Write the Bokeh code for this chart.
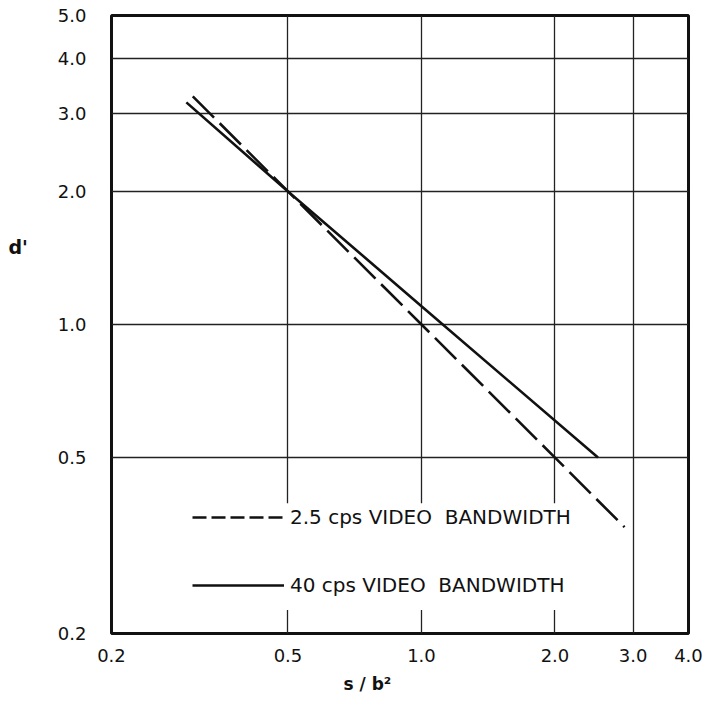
from bokeh.plotting import figure
from bokeh.models import FixedTicker, PrintfTickFormatter, Legend, LegendItem, Label, BoxAnnotation, Title
from bokeh.embed import file_html
from bokeh.resources import INLINE

# d' versus s/b^2 for two video bandwidths (log-log)
dash_x = [0.305, 0.5, 1.0, 2.0, 2.87]
dash_y = [3.28, 2.0, 1.0, 0.5, 0.348]
solid_x = [0.295, 0.5, 1.0, 2.5]
solid_y = [3.18, 2.0, 1.1, 0.5]

series_labels = ["2.5 cps VIDEO\u00a0 BANDWIDTH", "40 cps VIDEO\u00a0 BANDWIDTH"]

x_ticks = [0.2, 0.5, 1.0, 2.0, 3.0, 4.0]
y_ticks = [0.2, 0.5, 1.0, 2.0, 3.0, 4.0, 5.0]
x_grid = [0.5, 1.0, 2.0, 3.0]
y_grid = [0.5, 1.0, 2.0, 3.0, 4.0]

FONT = "DejaVu Sans"
INK = "#111111"

p = figure(width=704, height=706,
           x_axis_type="log", y_axis_type="log",
           x_range=(0.2, 4.0), y_range=(0.2, 5.0),
           output_backend="svg", toolbar_location=None,
           min_border_left=111, min_border_right=16,
           min_border_top=15, min_border_bottom=73)

p.outline_line_color = INK
p.outline_line_width = 3
p.background_fill_color = "white"
p.border_fill_color = "white"

p.xaxis.ticker = FixedTicker(ticks=x_ticks)
p.yaxis.ticker = FixedTicker(ticks=y_ticks)
for ax in (p.xaxis, p.yaxis):
    ax.formatter = PrintfTickFormatter(format="%.1f")
    ax.axis_line_color = None
    ax.major_tick_line_color = None
    ax.minor_tick_line_color = None
    ax.major_tick_out = 0
    ax.major_tick_in = 0
    ax.major_label_text_font = FONT
    ax.major_label_text_font_size = "18px"
    ax.major_label_text_color = INK
p.yaxis.major_label_standoff = 25
p.xaxis.major_label_standoff = 15

p.xgrid.ticker = FixedTicker(ticks=x_grid)
p.ygrid.ticker = FixedTicker(ticks=y_grid)
for g in (p.xgrid, p.ygrid):
    g.grid_line_color = "#222222"
    g.grid_line_width = 1.3
    g.grid_line_alpha = 1.0

r_dash = p.line(dash_x, dash_y, line_color=INK, line_width=2.6, line_dash="30 8")
r_solid = p.line(solid_x, solid_y, line_color=INK, line_width=2.6)

# key sample for the dashed series: same series start, shorter dash
r_dash_key = p.line(dash_x[:1], dash_y[:1], line_color=INK, line_width=2.4,
                    line_dash="14 5")

# blank panel behind the key, interrupting the vertical rules
p.add_layout(BoxAnnotation(left=0.29, right=2.3, bottom=0.226, top=0.394,
                           fill_color="white", fill_alpha=1.0, line_color=None))

legend = Legend(
    items=[LegendItem(label=series_labels[0], renderers=[r_dash_key]),
           LegendItem(label=series_labels[1], renderers=[r_solid])],
    location=(81, 36),
    glyph_width=92, glyph_height=20, label_height=20,
    label_standoff=6, spacing=44, padding=10, margin=0,
    border_line_color=None,
    background_fill_color="white", background_fill_alpha=1.0,
    label_text_font=FONT, label_text_font_size="20px",
    label_text_color=INK,
)
p.add_layout(legend)

# axis titles
p.add_layout(Title(text="s / b\u00b2", align="left", offset=232, standoff=14,
                   text_font=FONT, text_font_size="17px", text_font_style="bold",
                   text_color=INK), "below")
p.add_layout(Label(x=-27, y=376, x_units="screen", y_units="screen",
                   text="d'", text_font=FONT, text_font_size="19px",
                   text_font_style="bold", text_color=INK), "left")

open("out.html", "w").write(file_html(p, INLINE))
